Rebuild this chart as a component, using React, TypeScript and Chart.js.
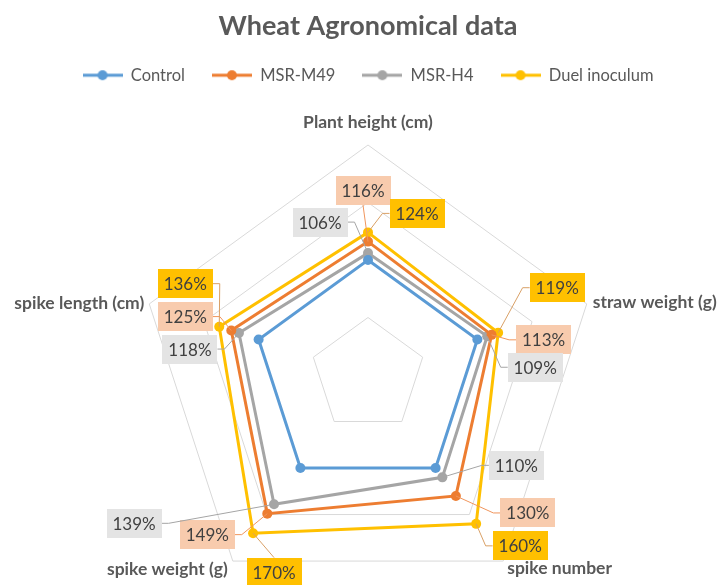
import React, { useEffect, useRef } from "react";
import { Chart, registerables } from "chart.js";

Chart.register(...registerables);

// ---- data ----
const categories = ["Plant height (cm)", "straw weight (g)", "spike number", "spike weight (g)", "spike length (cm)"];
const seriesNames = ["Control", "MSR-M49", "MSR-H4", "Duel inoculum"];
const control = [100, 100, 100, 100, 100];
const msrM49 = [116, 113, 130, 149, 125];
const msrH4 = [106, 109, 110, 139, 118];
const duel = [124, 119, 160, 170, 136];
const scaleMin = 0;
const scaleMax = 200;
const scaleStep = 50;

// ---- styles / layout ----
const lineColors = ["#5B9BD5", "#ED7D31", "#A5A5A5", "#FFC000"];
const boxColors = [null, "#F8CBAD", "#E4E4E4", "#FFC000"];
const leaderColors = [null, "#F0955C", "#A5A5A5", "#D9A066"];
// label box centre offsets from the data point, per series per category
const labelOffsets: Record<number, number[][]> = {
  1: [[-5, -51], [52, 5], [72, 17], [-60, 21], [-46, -14]],
  2: [[-48, -31], [48, 31], [74, -12], [-140, 19], [-49, 16]],
  3: [[49, -19], [59, -45], [44, 22], [21, 39], [-34, -43]],
};
const axisLabelPlacement = [
  { dx: 0, dy: -23, align: "center" },
  { dx: 6, dy: -2, align: "left" },
  { dx: 4, dy: 7, align: "left" },
  { dx: -5, dy: 8, align: "right" },
  { dx: -5, dy: -1, align: "right" },
];

function makeLegendIcon(color: string) {
  const c = document.createElement("canvas");
  c.width = 40;
  c.height = 12;
  const g = c.getContext("2d")!;
  g.strokeStyle = color;
  g.lineWidth = 3;
  g.beginPath();
  g.moveTo(0, 6);
  g.lineTo(40, 6);
  g.stroke();
  g.fillStyle = color;
  g.beginPath();
  g.arc(20, 6, 5, 0, Math.PI * 2);
  g.fill();
  return c;
}

const labelPlugin = {
  id: "customLabels",
  afterDatasetsDraw(chart: any) {
    const ctx = chart.ctx as CanvasRenderingContext2D;
    const scale = chart.scales.r;
    ctx.save();
    // axis (point) labels
    ctx.font = "bold 17.5px Lato";
    ctx.fillStyle = "#595959";
    ctx.textBaseline = "middle";
    categories.forEach((c, i) => {
      const p = scale.getPointPosition(i, scale.drawingArea);
      const pl = axisLabelPlacement[i];
      ctx.textAlign = pl.align as CanvasTextAlign;
      ctx.fillText(c, p.x + pl.dx, p.y + pl.dy);
    });
    // data labels
    ctx.font = "17px Lato";
    chart.data.datasets.forEach((ds: any, di: number) => {
      const offs = labelOffsets[di];
      if (!offs) return;
      const meta = chart.getDatasetMeta(di);
      meta.data.forEach((pt: any, i: number) => {
        const text = ds.data[i] + "%";
        const w = Math.round(ctx.measureText(text).width + 12);
        const h = 29;
        const bx = pt.x + offs[i][0];
        const by = pt.y + offs[i][1];
        // leader line
        ctx.strokeStyle = leaderColors[di]!;
        ctx.lineWidth = 1;
        ctx.beginPath();
        ctx.moveTo(pt.x, pt.y);
        if (bx - w / 2 > pt.x) {
          ctx.lineTo(bx - w / 2 - 7, by);
          ctx.lineTo(bx - w / 2, by);
        } else if (bx + w / 2 < pt.x) {
          ctx.lineTo(bx + w / 2 + 7, by);
          ctx.lineTo(bx + w / 2, by);
        } else if (by < pt.y) {
          ctx.lineTo(bx, by + h / 2);
        } else {
          ctx.lineTo(bx, by - h / 2);
        }
        ctx.stroke();
        // box
        ctx.fillStyle = boxColors[di]!;
        ctx.fillRect(Math.round(bx - w / 2), Math.round(by - h / 2), w, h);
        // text
        ctx.fillStyle = "#404040";
        ctx.textAlign = "center";
        ctx.textBaseline = "middle";
        ctx.fillText(text, bx, by + 1);
      });
    });
    ctx.restore();
  },
};

export default function App() {
  const ref = useRef<HTMLCanvasElement | null>(null);
  useEffect(() => {
    if (!ref.current) return;
    const icons = lineColors.map(makeLegendIcon);
    const seriesData = [control, msrM49, msrH4, duel];
    const chart = new Chart(ref.current, {
      type: "radar",
      data: {
        labels: categories,
        datasets: seriesNames.map((name, i) => ({
          label: name,
          data: seriesData[i],
          borderColor: lineColors[i],
          backgroundColor: lineColors[i],
          pointBackgroundColor: lineColors[i],
          pointBorderColor: lineColors[i],
          pointBorderWidth: 0,
          pointRadius: 5,
          borderWidth: 3,
          fill: false,
          tension: 0,
        })),
      },
      options: {
        responsive: false,
        animation: false,
        layout: { padding: { left: 16 } },
        plugins: {
          title: {
            display: true,
            text: "Wheat Agronomical data",
            color: "#595959",
            font: { family: "Lato", size: 27, weight: "bold", lineHeight: 1 },
            padding: { top: 13, bottom: 0 },
          },
          legend: {
            position: "top",
            labels: {
              usePointStyle: true,
              pointStyleWidth: 40,
              padding: 27,
              color: "#595959",
              font: { family: "Lato", size: 16.5 },
              generateLabels(ch: any) {
                const items = (Chart.defaults.plugins.legend.labels as any).generateLabels(ch);
                items.forEach((it: any) => {
                  it.pointStyle = icons[it.datasetIndex];
                });
                return items;
              },
            },
          },
          tooltip: { enabled: false },
        },
        scales: {
          r: {
            min: scaleMin,
            max: scaleMax,
            ticks: { stepSize: scaleStep, display: false },
            grid: { color: "#D9D9D9", lineWidth: 1 },
            angleLines: { display: false },
            pointLabels: { display: false },
            afterFit: (scale: any) => {
              scale.xCenter = 368;
              scale.yCenter = 375;
              scale.drawingArea = 230;
            },
          },
        },
      } as any,
      plugins: [labelPlugin],
    });
    return () => chart.destroy();
  }, []);
  return (
    <div style={{ position: "absolute", left: 0, top: 0, width: 720, height: 585, background: "#fff" }}>
      <canvas ref={ref} width={720} height={585} style={{ display: "block" }} />
    </div>
  );
}
